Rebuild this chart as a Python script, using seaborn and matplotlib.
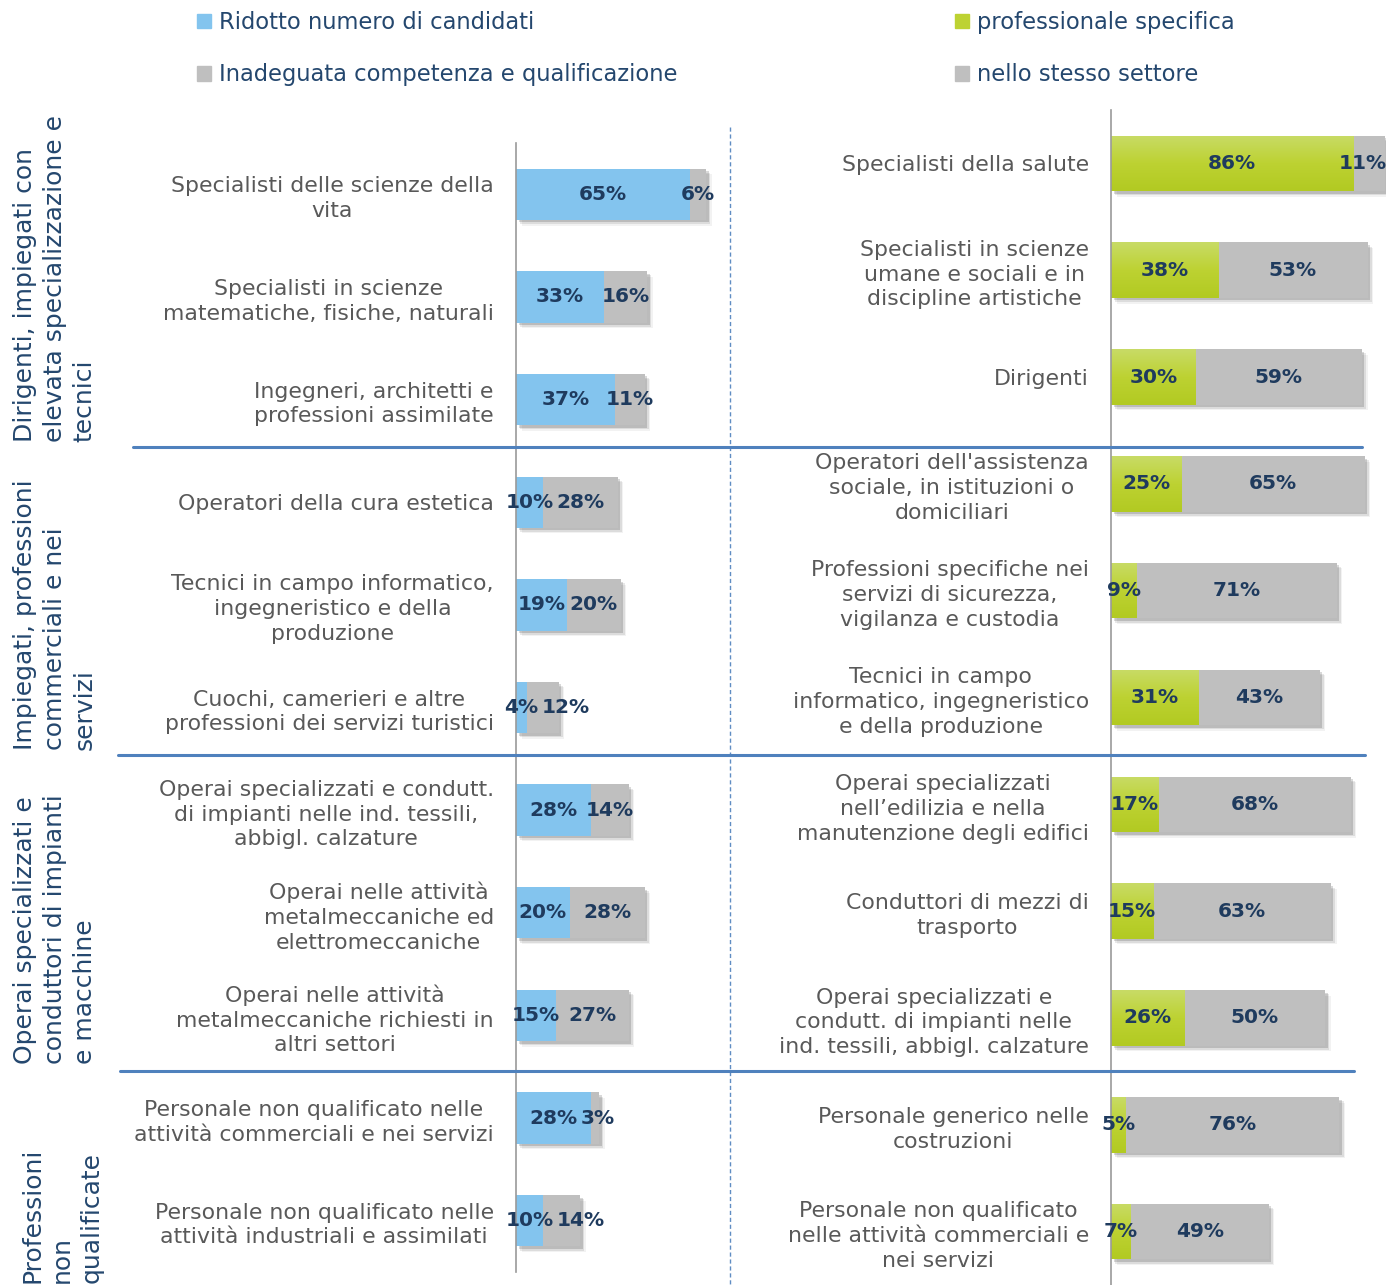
import numpy as np
import pandas as pd
import matplotlib
matplotlib.use("Agg")
import matplotlib.pyplot as plt
import matplotlib.patheffects as pe
from matplotlib.patches import Patch
from matplotlib.lines import Line2D
from matplotlib.colors import LinearSegmentedColormap
import seaborn as sns

# ---- data -------------------------------------------------------------
left_labels = [
    "Specialisti delle scienze della\nvita",
    "Specialisti in scienze\nmatematiche, fisiche, naturali",
    "Ingegneri, architetti e\nprofessioni assimilate",
    "Operatori della cura estetica",
    "Tecnici in campo informatico,\ningegneristico e della\nproduzione",
    "Cuochi, camerieri e altre\nprofessioni dei servizi turistici",
    "Operai specializzati e condutt.\ndi impianti nelle ind. tessili,\nabbigl. calzature",
    "Operai nelle attività\nmetalmeccaniche ed\nelettromeccaniche",
    "Operai nelle attività\nmetalmeccaniche richiesti in\naltri settori",
    "Personale non qualificato nelle\nattività commerciali e nei servizi",
    "Personale non qualificato nelle\nattività industriali e assimilati",
]
ridotto_numero = [65, 33, 37, 10, 19, 4, 28, 20, 15, 28, 10]
inadeguata_competenza = [6, 16, 11, 28, 20, 12, 14, 28, 27, 3, 14]

right_labels = [
    "Specialisti della salute",
    "Specialisti in scienze\numane e sociali e in\ndiscipline artistiche",
    "Dirigenti",
    "Operatori dell'assistenza\nsociale, in istituzioni o\ndomiciliari",
    "Professioni specifiche nei\nservizi di sicurezza,\nvigilanza e custodia",
    "Tecnici in campo\ninformatico, ingegneristico\ne della produzione",
    "Operai specializzati\nnell\u2019edilizia e nella\nmanutenzione degli edifici",
    "Conduttori di mezzi di\ntrasporto",
    "Operai specializzati e\ncondutt. di impianti nelle\nind. tessili, abbigl. calzature",
    "Personale generico nelle\ncostruzioni",
    "Personale non qualificato\nnelle attività commerciali e\nnei servizi",
]
professionale_specifica = [86, 38, 30, 25, 9, 31, 17, 15, 26, 5, 7]
stesso_settore = [11, 53, 59, 65, 71, 43, 68, 63, 50, 76, 49]

group_labels = [
    "Dirigenti, impiegati con\nelevata specializzazione e\ntecnici",
    "Impiegati, professioni\ncommerciali e nei\nservizi",
    "Operai specializzati e\nconduttori di impianti\ne macchine",
    "Professioni\nnon\nqualificate",
]

legend_left = ["Ridotto numero di candidati", "Inadeguata competenza e qualificazione"]
legend_right = ["professionale specifica", "nello stesso settore"]

# ---- style ------------------------------------------------------------
sns.set_style("white")
plt.rcParams["font.family"] = ["DejaVu Sans"]

BLUE = "#83C4EE"
GRAY = "#BFBFBF"
GREEN = "#BDD232"
GREEN_TOP = "#C8DB66"
GREEN_BOT = "#B2CA22"
NAVY = "#1F3B5E"
LABEL_GRAY = "#595959"
GROUP_BLUE = "#24476E"
RULE_BLUE = "#4F81BD"
SPINE = "#9A9A9A"

VALUE_FS = 14.5

W, H = 1386, 1285
fig = plt.figure(figsize=(W / 100, H / 100), dpi=100)


def fx(px):
    return px / W


def fy(py):
    return 1 - py / H


def panel(rect_px, px_per_unit, labels, first, second, first_color, bar_w,
          gradient=False, avoid_overlap=False):
    x0, y0, x1, y1 = rect_px
    xmax = (x1 - x0) / px_per_unit
    ax = fig.add_axes([fx(x0), fy(y1), fx(x1 - x0), (y1 - y0) / H])
    df = pd.DataFrame({"label": labels, "first": first,
                       "total": np.array(first) + np.array(second)})
    sns.barplot(data=df, y="label", x="total", color=GRAY, width=bar_w,
                saturation=1, errorbar=None, ax=ax, orient="h")
    total_patches = list(ax.patches)
    sns.barplot(data=df, y="label", x="first", color=first_color, width=bar_w,
                saturation=1, errorbar=None, ax=ax, orient="h")
    first_patches = ax.patches[len(total_patches):]

    # soft drop shadow under each whole bar
    shadow = [pe.SimplePatchShadow(offset=(4, -4), shadow_rgbFace="#000000", alpha=0.05),
              pe.SimplePatchShadow(offset=(3, -3), shadow_rgbFace="#000000", alpha=0.09),
              pe.SimplePatchShadow(offset=(1.8, -1.8), shadow_rgbFace="#000000", alpha=0.15),
              pe.Normal()]
    for p in total_patches:
        p.set_path_effects(shadow)
        p.set_linewidth(0)
    for p in first_patches:
        p.set_linewidth(0)

    if gradient:
        cmap = LinearSegmentedColormap.from_list("g", [GREEN_TOP, GREEN, GREEN_BOT])
        grad = np.linspace(0, 1, 64).reshape(-1, 1)
        for p in first_patches:
            bx, by = p.get_x(), p.get_y()
            bw, bh = p.get_width(), p.get_height()
            im = ax.imshow(grad, cmap=cmap, aspect="auto", origin="upper",
                           extent=(bx, bx + bw, by + bh, by), zorder=p.get_zorder() + 0.1,
                           interpolation="bilinear")
            im.set_clip_path(p)

    # value labels; half-widths approximated in data units
    half = lambda s: (len(s) * 0.74 * VALUE_FS * 100 / 72) / 2 / px_per_unit
    right_limit = (W - 1 - x0) / px_per_unit
    for i, (a, b) in enumerate(zip(first, second)):
        s1, s2 = f"{a}%", f"{b}%"
        c1 = a / 2
        c2 = a + b / 2
        if avoid_overlap:
            c2 = max(c2, c1 + half(s1) + half(s2) + 2.5)
        c2 = min(c2, right_limit - half(s2))
        ax.text(c1, i, s1, ha="center", va="center", fontsize=VALUE_FS,
                fontweight="bold", color=NAVY, zorder=10, clip_on=False)
        ax.text(c2, i, s2, ha="center", va="center", fontsize=VALUE_FS,
                fontweight="bold", color=NAVY, zorder=10, clip_on=False)

    ax.set_xlim(0, xmax)
    ax.set_ylim(len(labels) - 0.5, -0.5)
    ax.set_xlabel("")
    ax.set_ylabel("")
    ax.set_xticks([])
    for s in ["top", "right", "bottom"]:
        ax.spines[s].set_visible(False)
    ax.spines["left"].set_color(SPINE)
    ax.spines["left"].set_linewidth(1.2)
    ax.set_yticks(np.arange(-0.5, len(labels), 1), minor=True)
    ax.tick_params(axis="y", which="minor", length=8, width=1.2, color=SPINE,
                   direction="out")
    ax.tick_params(axis="y", which="major", length=0, pad=16, labelsize=15.8,
                   labelcolor=LABEL_GRAY)
    for t in ax.get_yticklabels():
        t.set_multialignment("center")
        t.set_linespacing(1.3)
    ax.patch.set_alpha(0)
    return ax


ax_l = panel((516, 143, 730, 1272), 2.68, left_labels, ridotto_numero,
             inadeguata_competenza, BLUE, 0.5, avoid_overlap=True)
ax_r = panel((1111, 110, 1386, 1285), 2.82, right_labels, professionale_specifica,
             stesso_settore, GREEN, 0.52, gradient=True)

# group separators and centre divider
for y, xa, xb in [(447, 133, 1362), (755, 118, 1365), (1071, 120, 1354)]:
    fig.add_artist(Line2D([fx(xa), fx(xb)], [fy(y), fy(y)], color=RULE_BLUE, lw=2.2,
                          zorder=5))
fig.add_artist(Line2D([fx(730), fx(730)], [fy(127), fy(1285)], color=RULE_BLUE, lw=1,
                      ls=(0, (3, 2)), alpha=0.9))

# rotated group titles
for text, (xc, yb) in zip(group_labels, [(55, 442), (55, 750), (55, 1064), (62, 1283)]):
    fig.text(fx(xc), fy(yb), text, rotation=90, ha="center", va="bottom",
             multialignment="left", fontsize=18, color=GROUP_BLUE, linespacing=1.3)

# legends
leg_kw = dict(loc="upper left", frameon=False, fontsize=16.3, handlelength=0.6,
              handleheight=0.6, handletextpad=0.35, labelspacing=1.3,
              borderaxespad=0, borderpad=0, labelcolor=GROUP_BLUE)
fig.legend([Patch(color=BLUE), Patch(color=GRAY)], legend_left,
           bbox_to_anchor=(fx(197), fy(11)), **leg_kw)
fig.legend([Patch(color=GREEN), Patch(color=GRAY)], legend_right,
           bbox_to_anchor=(fx(955), fy(11)), **leg_kw)

fig.savefig("out.png", dpi=100)
